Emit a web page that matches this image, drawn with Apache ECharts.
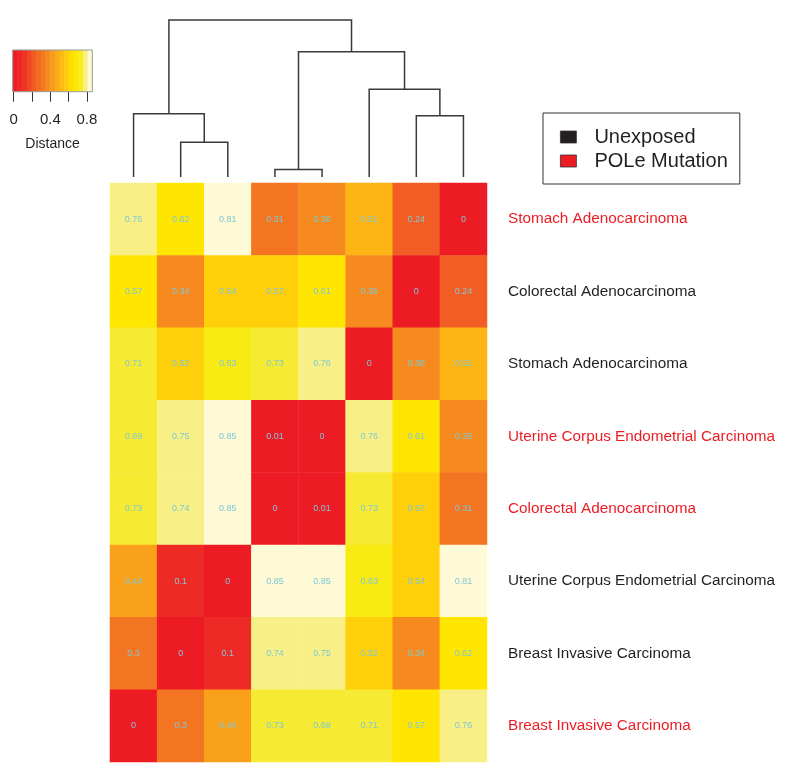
<!DOCTYPE html>
<html><head><meta charset="utf-8">
<script src="https://cdn.jsdelivr.net/npm/echarts@6/dist/echarts.min.js"></script>
<style>html,body{margin:0;padding:0;background:#fff}#c{width:785px;height:774px}</style>
</head><body><div id="c"></div>
<script>
// ---- data ----
const rowLabels = [
  'Stomach Adenocarcinoma',
  'Colorectal Adenocarcinoma',
  'Stomach Adenocarcinoma',
  'Uterine Corpus Endometrial Carcinoma',
  'Colorectal Adenocarcinoma',
  'Uterine Corpus Endometrial Carcinoma',
  'Breast Invasive Carcinoma',
  'Breast Invasive Carcinoma'
];
const rowGroups = ['POLe Mutation','Unexposed','Unexposed','POLe Mutation','POLe Mutation','Unexposed','Unexposed','POLe Mutation'];
const columns = ['c1','c2','c3','c4','c5','c6','c7','c8'];
const distances = [
  [0.76, 0.62, 0.81, 0.31, 0.36, 0.51, 0.24, 0],
  [0.574, 0.34, 0.54, 0.566, 0.61, 0.36, 0, 0.24],
  [0.71, 0.52, 0.63, 0.73, 0.76, 0, 0.38, 0.51],
  [0.69, 0.75, 0.85, 0.01, 0, 0.76, 0.61, 0.36],
  [0.73, 0.74, 0.85, 0, 0.01, 0.73, 0.566, 0.31],
  [0.44, 0.1, 0, 0.85, 0.85, 0.63, 0.54, 0.81],
  [0.3, 0, 0.1, 0.74, 0.75, 0.52, 0.34, 0.62],
  [0, 0.3, 0.44, 0.73, 0.69, 0.71, 0.574, 0.76]
];
// column dendrogram: [left, right, height]; negative = leaf (-1 is column 0), positive = earlier merge (1-based)
const dendroMerge = [
  [-4, -5, 0.047],
  [-2, -3, 0.221],
  [-7, -8, 0.39],
  [-1, 2, 0.403],
  [-6, 3, 0.559],
  [1, 5, 0.798],
  [4, 6, 1.0]
];
const pieceBreaks = [0, 0.05, 0.2, 0.27, 0.33, 0.41, 0.48, 0.515, 0.57, 0.625, 0.68, 0.735, 0.78, 0.9];
const pieceColors = ['#ED1C24','#EE2A26','#F15D22','#F47521','#F68A1F','#F9A11B','#FDB515','#FFD00A','#FFE600','#F8EB14','#F7EA33','#F8F086','#FEFAD6'];
const keyBreaks = [-0.011, 0.040, 0.091, 0.143, 0.194, 0.245, 0.296, 0.347, 0.398, 0.450, 0.501, 0.552, 0.603, 0.654, 0.705, 0.757, 0.808, 0.859];
const keyColors = ['#ED1C24','#EE2626','#EF3325','#F04624','#F15A22','#F36A21','#F47A20','#F68B1F','#F89C1C','#FBAC18','#FDBC13','#FFCD0B','#FFDC05','#FFE800','#F8EB20','#F8F085','#FEFAD6'];
const keyTicks = [0, 0.2, 0.4, 0.6, 0.8];
const keyTickLabels = [0, 0.4, 0.8];
const groupColors = {'Unexposed': '#231F20', 'POLe Mutation': '#ED1C24'};

// ---- build ----
const heatData = [];
distances.forEach((row, r) => row.forEach((v, c) => heatData.push([c, r, v])));

const nodes = [];
function nodePos(k) {
  if (k < 0) return [-k - 1, 0];
  return nodes[k - 1];
}
const dendroData = dendroMerge.map(m => {
  const a = nodePos(m[0]), b = nodePos(m[1]);
  nodes.push([(a[0] + b[0]) / 2, m[2]]);
  return [a[0], a[1], b[0], b[1], m[2]];
});

const pieces = pieceColors.map((col, i) => ({gte: pieceBreaks[i], lt: pieceBreaks[i + 1], color: col}));
const keyData = keyColors.map((col, i) => [keyBreaks[i], keyBreaks[i + 1]]);

const FONT = '"Liberation Sans", Arial, Helvetica, sans-serif';
const chart = echarts.init(document.getElementById('c'), null, {renderer: 'canvas'});
chart.setOption({
  animation: false,
  backgroundColor: '#fff',
  textStyle: {fontFamily: FONT},
  grid: [
    {left: 110, top: 183, width: 377, height: 579},
    {left: 110, top: 20, width: 377, height: 157},
    {left: 12.7, top: 50, width: 79.6, height: 41.7}
  ],
  xAxis: [
    {type: 'category', gridIndex: 0, data: columns, show: false},
    {type: 'value', gridIndex: 1, min: -0.5, max: 7.5, show: false},
    {type: 'value', gridIndex: 2, min: -0.011, max: 0.859,
      axisLine: {show: false}, splitLine: {show: false},
      axisTick: {show: true, customValues: keyTicks, length: 10, lineStyle: {color: '#333', width: 1}},
      axisLabel: {customValues: keyTickLabels, margin: 21, fontSize: 15, color: '#231F20', fontFamily: FONT},
      name: 'Distance', nameLocation: 'middle', nameGap: 45,
      nameTextStyle: {fontSize: 14, color: '#231F20', fontFamily: FONT}}
  ],
  yAxis: [
    {type: 'category', gridIndex: 0, inverse: true, position: 'right',
      data: rowLabels.map((t, i) => ({value: t, textStyle: {color: groupColors[rowGroups[i]]}})),
      axisLine: {show: false}, axisTick: {show: false}, splitLine: {show: false},
      axisLabel: {margin: 21, fontSize: 15.3, fontFamily: FONT}},
    {type: 'value', gridIndex: 1, min: 0, max: 1, show: false},
    {type: 'value', gridIndex: 2, min: 0, max: 1, show: false}
  ],
  visualMap: {type: 'piecewise', show: false, seriesIndex: 0, dimension: 2, pieces: pieces},
  legend: {
    left: 543, top: 113, orient: 'vertical', selectedMode: false,
    padding: [14, 12, 13, 17], itemGap: 4, itemWidth: 16, itemHeight: 12, icon: 'rect',
    borderColor: '#333', borderWidth: 1,
    itemStyle: {borderColor: '#333', borderWidth: 0.8, opacity: 1},
    textStyle: {fontSize: 20, color: '#231F20', fontFamily: FONT, padding: [0, 0, 0, 13]},
    data: ['Unexposed', 'POLe Mutation']
  },
  series: [
    {type: 'heatmap', xAxisIndex: 0, yAxisIndex: 0, data: heatData,
      label: {show: true, fontSize: 9, color: '#7EC8D6', fontFamily: FONT,
        formatter: p => String(Math.round(p.value[2] * 100) / 100)},
      emphasis: {disabled: true}, itemStyle: {borderWidth: 0}},
    {type: 'custom', xAxisIndex: 1, yAxisIndex: 1, data: dendroData, silent: true, clip: false,
      renderItem: (params, api) => {
        const p1 = api.coord([api.value(0), api.value(1)]);
        const p2 = api.coord([api.value(0), api.value(4)]);
        const p3 = api.coord([api.value(2), api.value(4)]);
        const p4 = api.coord([api.value(2), api.value(3)]);
        return {type: 'polyline', shape: {points: [p1, p2, p3, p4]},
          style: {stroke: '#3a3a3a', lineWidth: 1.5, fill: null}};
      }},
    {type: 'custom', xAxisIndex: 2, yAxisIndex: 2, data: keyData, silent: true, clip: false,
      renderItem: (params, api) => {
        const a = api.coord([api.value(0), 1]);
        const b = api.coord([api.value(1), 0]);
        const children = [{type: 'rect', shape: {x: a[0], y: a[1], width: b[0] - a[0] + 0.5, height: b[1] - a[1]},
          style: {fill: keyColors[params.dataIndex]}}];
        if (params.dataIndex === keyColors.length - 1) {
          const s = api.coord([keyBreaks[0], 1]);
          const e = api.coord([keyBreaks[keyBreaks.length - 1], 0]);
          children.push({type: 'rect', z2: 10, shape: {x: s[0], y: s[1], width: e[0] - s[0], height: e[1] - s[1]},
            style: {fill: null, stroke: '#999', lineWidth: 1}});
        }
        return {type: 'group', children: children};
      }},
    {name: 'Unexposed', type: 'scatter', xAxisIndex: 0, yAxisIndex: 0, data: [], itemStyle: {color: groupColors['Unexposed'], opacity: 1}},
    {name: 'POLe Mutation', type: 'scatter', xAxisIndex: 0, yAxisIndex: 0, data: [], itemStyle: {color: groupColors['POLe Mutation'], opacity: 1}}
  ]
});
</script>
</body></html>
